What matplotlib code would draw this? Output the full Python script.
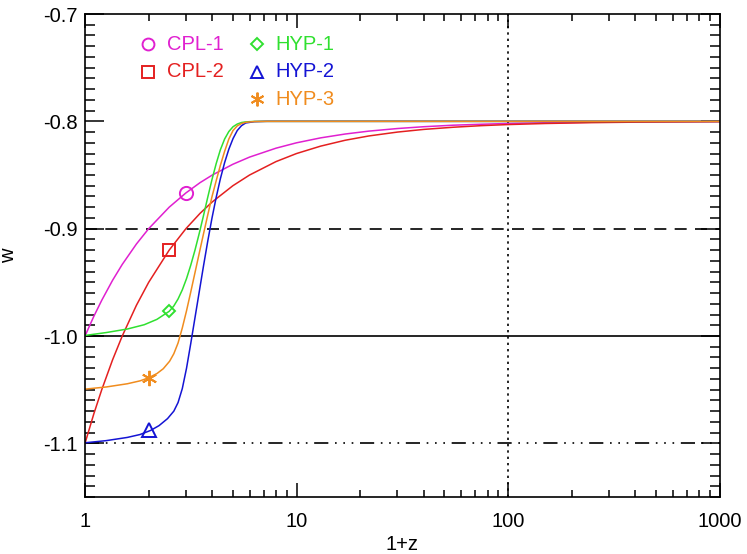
import matplotlib
matplotlib.use("Agg")
import matplotlib.pyplot as plt
from matplotlib.ticker import FixedLocator, MultipleLocator, NullFormatter

plt.rcParams["font.family"] = ["Liberation Sans", "DejaVu Sans"]
plt.rcParams["axes.unicode_minus"] = False

# values (x is 1+z, log axis)
cpl_x = [1, 1.1, 1.2, 1.35, 1.5, 1.75, 2, 2.5, 3, 3.5, 4, 5, 6, 8, 10,
         13, 17, 22, 30, 40, 55, 75, 100, 150, 250, 400, 1000]
cpl1_w = [-1.0, -0.9818, -0.9667, -0.9481, -0.9333, -0.9143, -0.9, -0.88,
          -0.8667, -0.8571, -0.85, -0.84, -0.8333, -0.825, -0.82, -0.8154,
          -0.8118, -0.8091, -0.8067, -0.805, -0.8036, -0.8027, -0.802,
          -0.8013, -0.8008, -0.8005, -0.8002]
cpl2_w = [-1.1, -1.0727, -1.05, -1.0222, -1.0, -0.9714, -0.95, -0.92, -0.9,
          -0.8857, -0.875, -0.86, -0.85, -0.8375, -0.83, -0.8231, -0.8176,
          -0.8136, -0.81, -0.8075, -0.8055, -0.804, -0.803, -0.802, -0.8012,
          -0.80075, -0.8003]

hyp1_x = [1, 1.259, 1.585, 1.905, 2.188, 2.5, 2.63, 2.754, 2.884, 3.02,
          3.162, 3.311, 3.467, 3.631, 3.802, 3.981, 4.169, 4.365, 4.571,
          4.786, 5.012, 5.248, 5.495, 5.754, 6.31, 7.079, 10, 1000]
hyp1_w = [-0.9995, -0.9968, -0.9935, -0.9895, -0.9845, -0.977, -0.972,
          -0.9655, -0.957, -0.9465, -0.934, -0.92, -0.9045, -0.888, -0.871,
          -0.8545, -0.8395, -0.8265, -0.8165, -0.8095, -0.805, -0.8025,
          -0.8011, -0.8005, -0.8001, -0.8, -0.8, -0.8]

hyp2_x = [1, 1.259, 1.585, 1.82, 2.042, 2.239, 2.455, 2.63, 2.754, 2.884,
          3.02, 3.162, 3.311, 3.467, 3.631, 3.802, 3.981, 4.169, 4.365,
          4.571, 4.786, 5.012, 5.248, 5.495, 5.754, 6.31, 7.244, 10, 1000]
hyp2_w = [-1.0995, -1.0975, -1.0945, -1.0918, -1.088, -1.0835, -1.077, -1.07,
          -1.062, -1.049, -1.03, -1.007, -0.983, -0.959, -0.935, -0.912,
          -0.8905, -0.871, -0.8535, -0.8385, -0.826, -0.816, -0.8085, -0.804,
          -0.8015, -0.8003, -0.8, -0.8, -0.8]

hyp3_x = [1, 1.259, 1.585, 1.82, 1.995, 2.188, 2.344, 2.512, 2.63, 2.754,
          2.884, 3.02, 3.162, 3.311, 3.467, 3.631, 3.802, 3.981, 4.169,
          4.365, 4.571, 4.786, 5.012, 5.248, 5.495, 5.754, 6.31, 7.244, 10,
          1000]
hyp3_w = [-1.0495, -1.0475, -1.0445, -1.0418, -1.039, -1.035, -1.0305,
          -1.0235, -1.0165, -1.0065, -0.9925, -0.9765, -0.959, -0.941, -0.923,
          -0.905, -0.8875, -0.8705, -0.8555, -0.841, -0.828, -0.8165, -0.8085,
          -0.8042, -0.802, -0.8009, -0.8002, -0.8, -0.8, -0.8]

names = ["CPL-1", "CPL-2", "HYP-1", "HYP-2", "HYP-3"]
mark_x = [3.0, 2.5, 2.5, 2.0, 2.0]
mark_w = [-0.867, -0.92, -0.977, -1.088, -1.039]

colors = ["#e020d0", "#e42020", "#30e030", "#1414d4", "#f08c1e"]
markers = ["o", "s", "D", "^", (6, 2, 0)]
msizes = [9.5, 9.0, 6.5, 9.5, 11.0]

fig = plt.figure(figsize=(7.47, 5.54), dpi=100)
ax = fig.add_axes([0.1138, 0.1029, 0.8494, 0.8718])

ax.axhline(-0.9, color="black", lw=1.2, dashes=(7.2, 5))
ax.axhline(-1.0, color="black", lw=1.2)
ax.axhline(-1.1, color="black", lw=1.2, dashes=(8.5, 4, 1, 4, 1, 4, 1, 4))
ax.axvline(100, color="black", lw=1.2, dashes=(1.4, 2.4))

curves = [(cpl_x, cpl1_w), (cpl_x, cpl2_w), (hyp1_x, hyp1_w),
          (hyp2_x, hyp2_w), (hyp3_x, hyp3_w)]
for (xs, ws), c in zip(curves, colors):
    ax.plot(xs, ws, color=c, lw=1.1)

for i in range(5):
    ax.plot(mark_x[i], mark_w[i], marker=markers[i], ms=msizes[i], mfc="none",
            mec=colors[i], mew=1.4, ls="none")

# legend drawn by hand, two columns
leg_pos = [(0.0998, 0.9373), (0.0998, 0.8805), (0.2716, 0.9373),
           (0.2716, 0.8805), (0.2716, 0.824)]
for i, (lx, ly) in enumerate(leg_pos):
    ax.plot(lx, ly, transform=ax.transAxes, marker=markers[i], ms=msizes[i] * 0.9,
            mfc="none", mec=colors[i], mew=1.4, ls="none", clip_on=False)
    ax.text(lx + 0.029, ly, names[i], transform=ax.transAxes, color=colors[i],
            fontsize=14.5, va="center", ha="left")

ax.set_xscale("log")
ax.set_xlim(1, 1000)
ax.set_ylim(-1.15, -0.7)
ax.xaxis.set_major_locator(FixedLocator([1, 10, 100, 1000]))
ax.set_xticklabels(["1", "10", "100", "1000"])
ax.xaxis.set_minor_formatter(NullFormatter())
ax.yaxis.set_major_locator(FixedLocator([-1.1, -1.0, -0.9, -0.8, -0.7]))
ax.set_yticklabels(["-1.1", "-1.0", "-0.9", "-0.8", "-0.7"])
ax.yaxis.set_minor_locator(MultipleLocator(0.01))

ax.tick_params(which="both", direction="in", top=True, right=True, width=1.1,
               labelsize=14.5)
ax.tick_params(axis="x", which="major", length=10, pad=11)
ax.tick_params(axis="x", which="minor", length=5)
ax.tick_params(axis="y", which="major", length=13.5, pad=5)
ax.tick_params(axis="y", which="minor", length=7)
for sp in ax.spines.values():
    sp.set_linewidth(1.2)

ax.set_xlabel("1+z", fontsize=14.5)
ax.set_ylabel("w", fontsize=14.5)
ax.xaxis.set_label_coords(0.5, -0.078)
ax.yaxis.set_label_coords(-0.106, 0.5)

fig.savefig("out.png", dpi=100)
